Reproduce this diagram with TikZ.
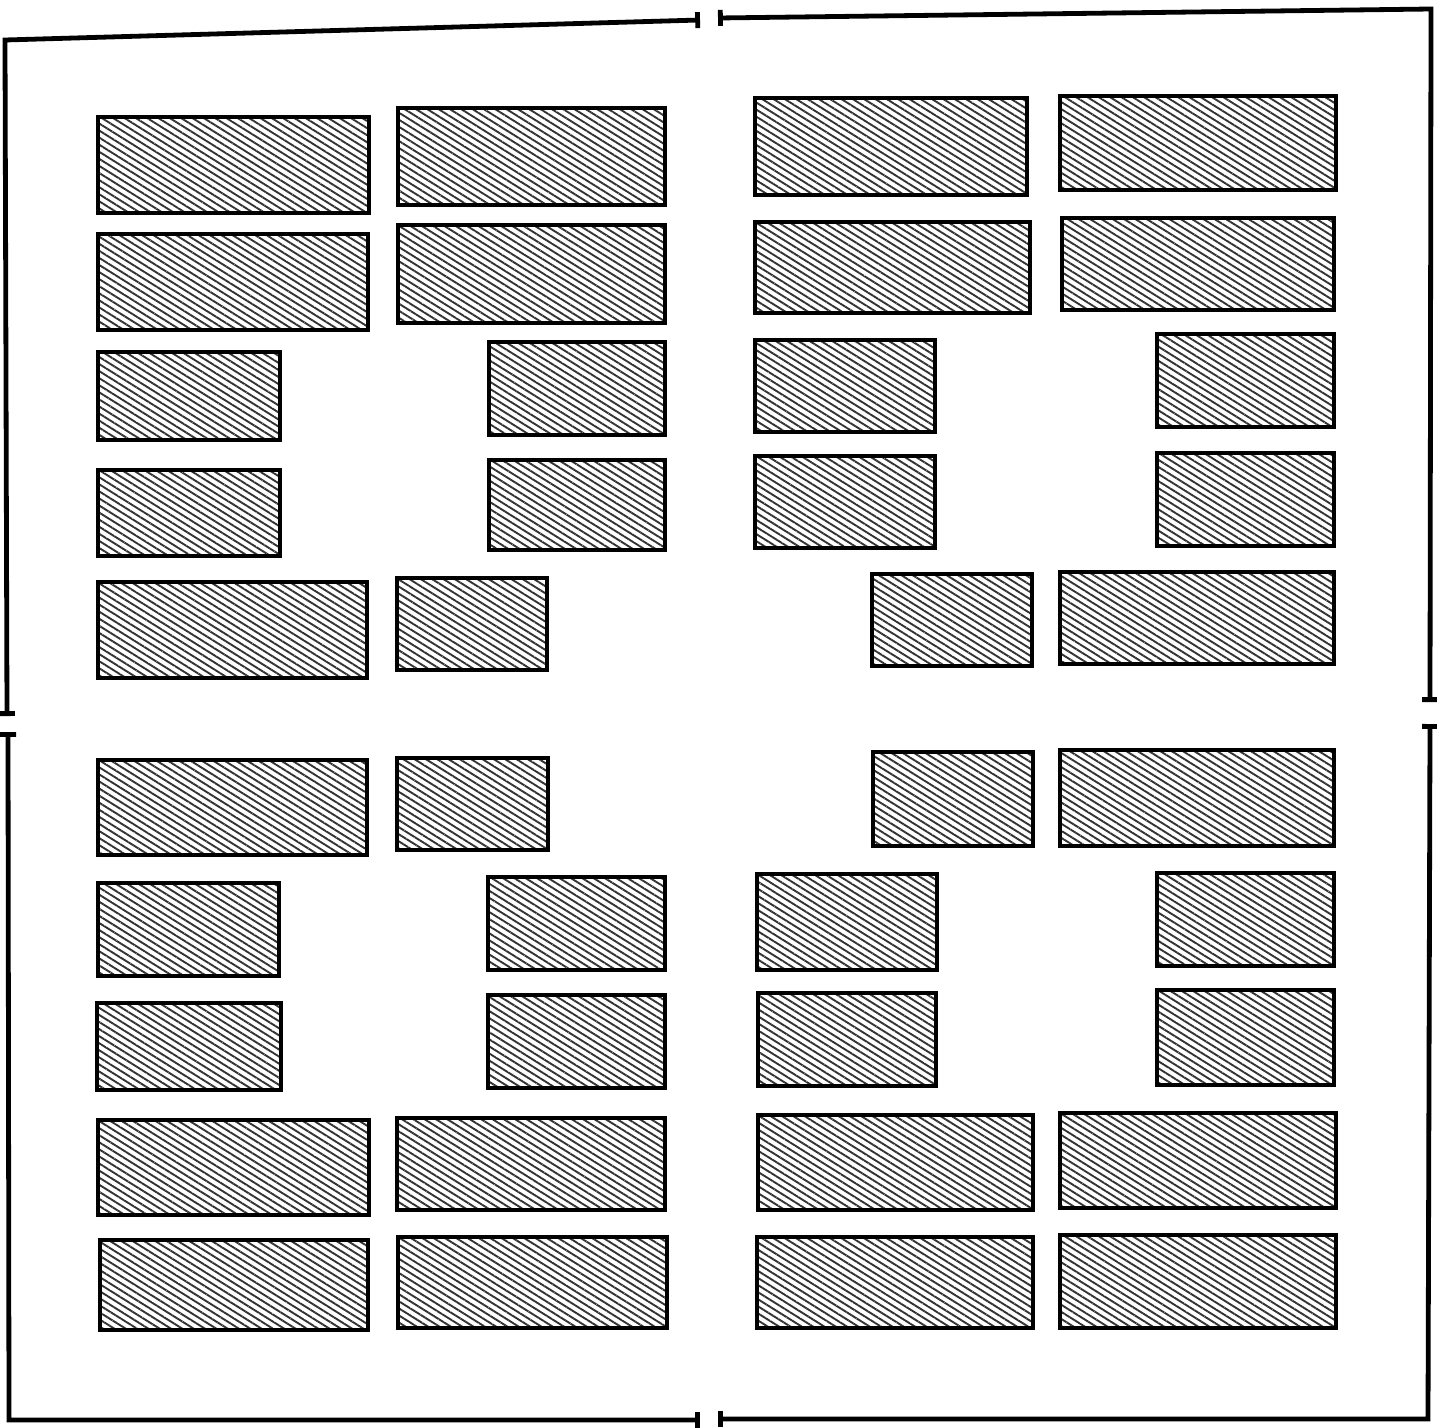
\documentclass[tikz,border=0pt]{standalone}
\usetikzlibrary{arrows.meta,patterns.meta}
\tikzset{
  bar/.style={draw=black,line width=3.2pt,pattern={Lines[angle=-32,distance=6pt,line width=1.9pt]},pattern color=black!80},
  frm/.style={line width=4.8pt,line join=miter,{Tee Barb[length=4pt,width=16pt]}-{Tee Barb[length=4pt,width=16pt]}},
}
\newcommand{\blk}[4]{\draw[bar] (#1,#3) rectangle (#2,#4);}

\begin{document}
\begin{tikzpicture}[x=1pt,y=-1pt]
\useasboundingbox (0,0) rectangle (1437,1427);
% frame
\coordinate (tl) at (5,40);
\coordinate (tr) at (1431,9);
\coordinate (br) at (1428,1419);
\coordinate (bl) at (9,1420);
\draw[frm] (700,20) -- (tl) -- (7,716);
\draw[frm] (718,18) -- (tr) -- (1430,702);
\draw[frm] (1430,724) -- (br) -- (718,1419);
\draw[frm] (700,1420) -- (bl) -- (8,732);
% upper half
\blk{98}{369}{117}{213} \blk{398}{665}{108}{205} \blk{755}{1027}{98}{195} \blk{1060}{1336}{96}{190}
\blk{98}{368}{234}{330} \blk{398}{665}{225}{323} \blk{755}{1030}{222}{313} \blk{1062}{1334}{218}{310}
\blk{98}{280}{352}{440} \blk{489}{665}{342}{435} \blk{755}{935}{340}{432} \blk{1157}{1334}{334}{427}
\blk{98}{280}{470}{556} \blk{489}{665}{460}{550} \blk{755}{935}{456}{548} \blk{1157}{1334}{453}{546}
\blk{98}{367}{582}{678} \blk{397}{547}{578}{670} \blk{872}{1032}{574}{666} \blk{1060}{1334}{572}{664}
% lower half
\blk{98}{367}{760}{855} \blk{397}{548}{758}{850} \blk{873}{1033}{752}{846} \blk{1060}{1334}{750}{846}
\blk{98}{279}{883}{976} \blk{488}{665}{877}{970} \blk{757}{937}{874}{970} \blk{1157}{1334}{873}{966}
\blk{97}{281}{1003}{1090} \blk{488}{665}{995}{1088} \blk{758}{936}{993}{1086} \blk{1157}{1334}{990}{1085}
\blk{98}{369}{1120}{1215} \blk{397}{665}{1118}{1210} \blk{758}{1033}{1115}{1210} \blk{1060}{1336}{1113}{1208}
\blk{100}{368}{1240}{1330} \blk{398}{667}{1237}{1328} \blk{757}{1033}{1237}{1328} \blk{1060}{1336}{1235}{1328}
\end{tikzpicture}
\end{document}
